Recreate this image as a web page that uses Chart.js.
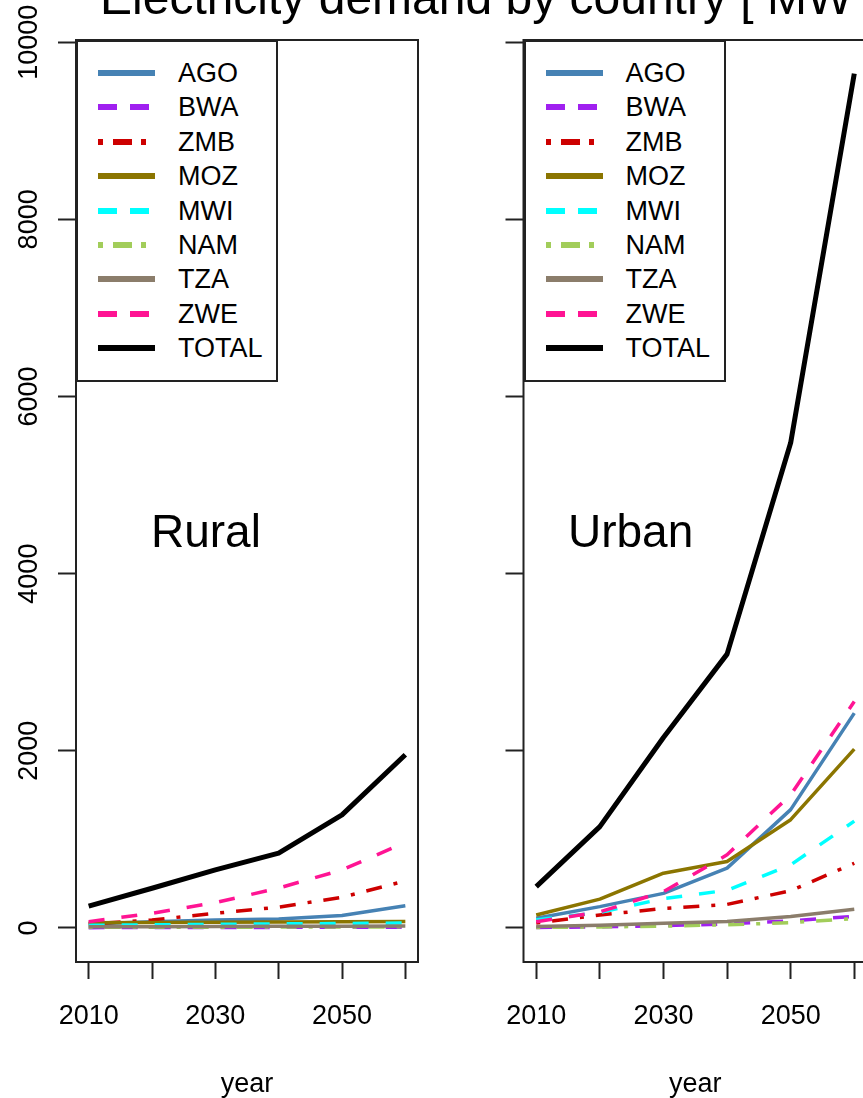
<!DOCTYPE html>
<html>
<head>
<meta charset="utf-8">
<script src="https://cdn.jsdelivr.net/npm/chart.js@4.4.1/dist/chart.umd.min.js"></script>
<style>
  html, body { margin:0; padding:0; background:#fff; }
  body { width:863px; height:1098px; overflow:hidden; position:relative; font-family:"Liberation Sans", Arial, sans-serif; color:#000; }
  .panel { position:absolute; top:0; width:440px; height:1098px; }
  #p1 { left:0; }
  #p2 { left:440px; }
  #title { position:absolute; left:100px; top:-26px; font-size:48px; line-height:48px; white-space:nowrap; }
  .lab { position:absolute; top:508px; font-size:46px; line-height:46px; white-space:nowrap; }
  .legend { position:absolute; box-sizing:border-box; border:2px solid #222; background:#fff; }
  .legend .row { position:absolute; left:0; height:34px; width:100%; }
  .legend .row span { position:absolute; font-size:27px; line-height:34px; top:0; white-space:nowrap; }
  .legend svg { position:absolute; top:0; }
</style>
</head>
<body>
<div class="panel" id="p1"><canvas id="c1" width="440" height="1098"></canvas></div>
<div class="panel" id="p2"><canvas id="c2" width="440" height="1098"></canvas></div>
<div id="title">Electricity demand by country [ MW ]</div>
<div class="lab" style="left:151px">Rural</div>
<div class="lab" style="left:568px">Urban</div>
<script>
// ---- data ----
const years = [2010, 2020, 2030, 2040, 2050, 2060];
const xTickLabels = ['2010', '', '2030', '', '2050', ''];
const yTicks = [0, 2000, 4000, 6000, 8000, 10000];
const seriesNames = ['AGO', 'BWA', 'ZMB', 'MOZ', 'MWI', 'NAM', 'TZA', 'ZWE', 'TOTAL'];
const seriesColors = ['#4682B4', '#A020F0', '#CD0000', '#8B7500', '#00FFFF', '#A2CD5A', '#8B7D6B', '#FF1493', '#000000'];
const seriesLty = ['solid', 'dashed', 'dotdash', 'solid', 'dashed', 'dotdash', 'solid', 'dashed', 'solid'];

const ruralAGO   = [45, 70, 88, 100, 140, 250];
const ruralBWA   = [3, 4, 5, 6, 7, 8];
const ruralZMB   = [45, 90, 165, 235, 345, 530];
const ruralMOZ   = [58, 62, 65, 67, 70, 73];
const ruralMWI   = [30, 35, 40, 45, 50, 55];
const ruralNAM   = [6, 7, 8, 9, 10, 12];
const ruralTZA   = [12, 14, 16, 18, 20, 22];
const ruralZWE   = [70, 165, 285, 450, 655, 965];
const ruralTOTAL = [245, 448, 655, 845, 1276, 1955];

const urbanAGO   = [110, 240, 390, 675, 1335, 2425];
const urbanBWA   = [5, 12, 25, 45, 80, 130];
const urbanZMB   = [55, 145, 220, 265, 420, 730];
const urbanMOZ   = [145, 325, 618, 750, 1222, 2018];
const urbanMWI   = [90, 175, 330, 425, 712, 1205];
const urbanNAM   = [5, 10, 20, 35, 60, 105];
const urbanTZA   = [15, 30, 53, 72, 128, 211];
const urbanZWE   = [70, 180, 410, 825, 1502, 2556];
const urbanTOTAL = [466, 1144, 2150, 3091, 5477, 9645];

const ruralSeries = [ruralAGO, ruralBWA, ruralZMB, ruralMOZ, ruralMWI, ruralNAM, ruralTZA, ruralZWE, ruralTOTAL];
const urbanSeries = [urbanAGO, urbanBWA, urbanZMB, urbanMOZ, urbanMWI, urbanNAM, urbanTZA, urbanZWE, urbanTOTAL];

// ---- styles ----
const dashPlot = { solid: [], dashed: [16, 17], dotdash: [4, 12, 16, 12] };
const dashLegend = { solid: [], dashed: [19, 13], dotdash: [5, 10, 19, 9] };
const FONT = '"Liberation Sans", Arial, sans-serif';
Chart.defaults.font.family = FONT;
Chart.defaults.color = '#000';

const boxPlugin = {
  id: 'plotBox',
  afterDraw(chart) {
    const a = chart.chartArea, ctx = chart.ctx;
    ctx.save();
    ctx.strokeStyle = '#222';
    ctx.lineWidth = 2;
    ctx.strokeRect(a.left, a.top, a.right - a.left, a.bottom - a.top);
    ctx.restore();
  }
};

function makeChart(canvasId, series, yAxisWidth, padRight, showYLabels) {
  const datasets = series.map((vals, i) => ({
    label: seriesNames[i],
    data: vals.map((v, j) => ({ x: years[j], y: v })),
    borderColor: seriesColors[i],
    backgroundColor: seriesColors[i],
    borderWidth: seriesNames[i] === 'TOTAL' ? 5 : 3.5,
    borderDash: dashPlot[seriesLty[i]],
    borderCapStyle: 'butt',
    borderJoinStyle: 'round',
    pointRadius: 0,
    tension: 0,
    fill: false,
    order: -i
  }));
  return new Chart(document.getElementById(canvasId), {
    type: 'line',
    data: { datasets },
    plugins: [boxPlugin],
    options: {
      responsive: false,
      animation: false,
      events: [],
      layout: { padding: { top: 40, right: padRight, left: 0, bottom: 0 } },
      plugins: { legend: { display: false }, tooltip: { enabled: false }, title: { display: false } },
      scales: {
        x: {
          type: 'linear',
          min: 2008, max: 2062,
          afterBuildTicks: s => { s.ticks = years.map(v => ({ value: v })); },
          afterFit: s => { s.height = 136; },
          grid: { display: true, drawOnChartArea: false, drawTicks: true, tickLength: 17, tickColor: '#222', tickWidth: 2 },
          border: { display: false },
          ticks: {
            autoSkip: false, maxRotation: 0, minRotation: 0, padding: 21,
            font: { size: 27 }, color: '#000',
            callback: v => xTickLabels[years.indexOf(v)]
          },
          title: { display: true, text: 'year', font: { size: 27 }, color: '#000', padding: { top: 0, bottom: -3 } }
        },
        y: {
          type: 'linear',
          min: -385, max: 10025,
          afterBuildTicks: s => { s.ticks = yTicks.map(v => ({ value: v })); },
          afterFit: s => { s.width = yAxisWidth; },
          grid: { display: true, drawOnChartArea: false, drawTicks: true, tickLength: 18, tickColor: '#222', tickWidth: 2 },
          border: { display: false },
          ticks: {
            display: showYLabels, autoSkip: false,
            minRotation: 90, maxRotation: 90,
            crossAlign: 'center', padding: -9.5,
            font: { size: 27 }, color: '#000',
            callback: v => String(v)
          }
        }
      }
    }
  });
}

function makeLegend(chart, panelLeft) {
  const a = chart.chartArea;
  const lg = document.createElement('div');
  lg.className = 'legend';
  lg.style.left = (panelLeft + a.left) + 'px';
  lg.style.top = a.top + 'px';
  lg.style.width = '202px';
  lg.style.height = '342px';
  seriesNames.forEach((name, i) => {
    const row = document.createElement('div');
    row.className = 'row';
    const cy = 33 + i * 34.4;
    row.style.top = (cy - 17 - 2) + 'px';
    const svgNS = 'http://www.w3.org/2000/svg';
    const svg = document.createElementNS(svgNS, 'svg');
    svg.setAttribute('width', '70'); svg.setAttribute('height', '34');
    svg.style.left = '18px';
    const ln = document.createElementNS(svgNS, 'line');
    ln.setAttribute('x1', '2'); ln.setAttribute('x2', '59');
    ln.setAttribute('y1', '17'); ln.setAttribute('y2', '17');
    ln.setAttribute('stroke', seriesColors[i]);
    ln.setAttribute('stroke-width', '6');
    const d = dashLegend[seriesLty[i]];
    if (d.length) ln.setAttribute('stroke-dasharray', d.join(' '));
    svg.appendChild(ln);
    row.appendChild(svg);
    const sp = document.createElement('span');
    sp.textContent = name;
    sp.style.left = '100px';
    row.appendChild(sp);
    lg.appendChild(row);
  });
  document.body.appendChild(lg);
}

const chart1 = makeChart('c1', ruralSeries, 76, 22, true);
const chart2 = makeChart('c2', urbanSeries, 83.5, 13, false);
makeLegend(chart1, 0);
makeLegend(chart2, 440);
</script>
</body>
</html>
